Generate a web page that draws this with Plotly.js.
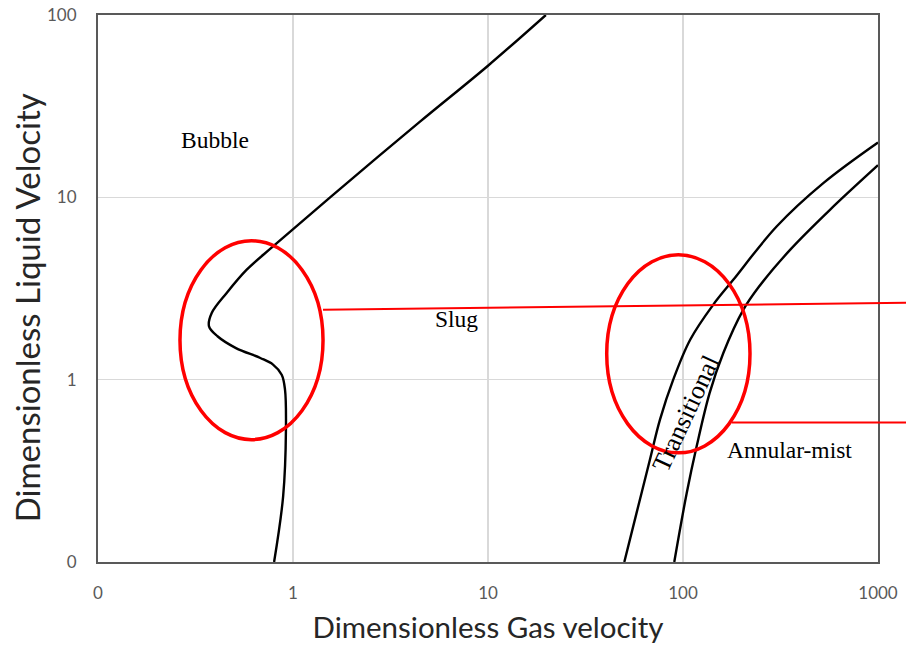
<!DOCTYPE html>
<html>
<head>
<meta charset="utf-8">
<script src="https://cdn.plot.ly/plotly-3.0.1.min.js"></script>
<style>
  html, body { margin: 0; padding: 0; background: #ffffff; }
  #chart { width: 906px; height: 645px; }
</style>
</head>
<body>
<div id="chart"></div>
<script>
// Flow-regime map boundaries (dimensionless gas vs. liquid velocity, log-log)

// Bubble / slug boundary
const bubbleSlugX = [0.80, 0.89, 0.92, 0.91, 0.875, 0.79, 0.68, 0.51, 0.41, 0.371, 0.383, 0.457, 0.579, 0.79, 1.55, 4.48, 10, 19.8];
const bubbleSlugY = [0.1, 0.229, 0.532, 0.882, 1.065, 1.21, 1.315, 1.49, 1.73, 1.96, 2.32, 2.99, 4.01, 5.38, 10, 26, 52.7, 100];

// Slug / transitional boundary
const slugTransX = [50, 57.8, 67.7, 76.2, 89.1, 109, 143, 181, 302, 524, 1000];
const slugTransY = [0.1, 0.186, 0.365, 0.604, 1.0, 1.66, 2.58, 3.53, 6.92, 11.97, 20];

// Transitional / annular-mist boundary
const transMistX = [90.2, 104.5, 117.5, 137, 161, 204, 245, 354, 567, 1000];
const transMistY = [0.1, 0.239, 0.431, 0.846, 1.40, 2.42, 3.23, 5.15, 8.54, 15];

// Axis ticks
const xTickVals = [0.1, 1, 10, 100, 1000];
const xTickText = ["0", "1", "10", "100", "1000"];
const yTickVals = [0.1, 1, 10, 100];
const yTickText = ["0", "1", "10", "100"];

// Axis titles and region labels
const xTitle = "Dimensionless Gas velocity";
const yTitle = "Dimensionless Liquid Velocity";
const regionNames = ["Bubble", "Slug", "Transitional", "Annular-mist"];

const boundaryLine = { color: "#000000", width: 2.4, shape: "spline", smoothing: 1 };

const traces = [
  { x: bubbleSlugX, y: bubbleSlugY, mode: "lines", line: boundaryLine, hoverinfo: "skip" },
  { x: slugTransX, y: slugTransY, mode: "lines", line: boundaryLine, hoverinfo: "skip" },
  { x: transMistX, y: transMistY, mode: "lines", line: boundaryLine, hoverinfo: "skip" }
];

const serif = { family: "Liberation Serif, Times New Roman, serif", size: 23.5, color: "#000000" };
const sans = "Lato, Open Sans, sans-serif";

function regionLabel(text, x, y, angle, size) {
  return {
    text: text, xref: "paper", yref: "paper", x: x, y: y,
    xanchor: "center", yanchor: "middle", showarrow: false,
    textangle: angle, font: Object.assign({}, serif, size ? { size: size } : {})
  };
}

const axisCommon = {
  type: "log",
  ticks: "",
  tickfont: { family: sans, size: 17, color: "#595959" },
  showgrid: true,
  gridcolor: "#d9d9d9",
  gridwidth: 1.5,
  showline: true,
  mirror: true,
  linecolor: "#595959",
  linewidth: 2,
  zeroline: false
};

const layout = {
  width: 906,
  height: 645,
  margin: { l: 98, r: 28, t: 15, b: 83 },
  paper_bgcolor: "#ffffff",
  plot_bgcolor: "#ffffff",
  showlegend: false,
  xaxis: Object.assign({}, axisCommon, {
    range: [-1, 3],
    tickvals: xTickVals,
    ticktext: xTickText,
    ticklabelstandoff: 15,
    title: {
      text: xTitle,
      font: { family: sans, size: 29.5, color: "#262626" },
      standoff: 15
    }
  }),
  yaxis: Object.assign({}, axisCommon, {
    range: [-1, 2],
    tickvals: yTickVals,
    ticktext: yTickText,
    ticklabelstandoff: 16
  }),
  annotations: [
    // vertical axis title, sitting a little below the plot's mid-height
    { text: yTitle, xref: "paper", yref: "paper", x: -0.091, y: 0.464,
      xanchor: "center", yanchor: "middle", showarrow: false, textangle: -90,
      font: { family: sans, size: 33, color: "#262626" } },
    regionLabel(regionNames[0], 0.150, 0.772, 0),
    regionLabel(regionNames[1], 0.460, 0.445, 0),
    regionLabel(regionNames[2], 0.754, 0.271, -65, 26),
    regionLabel(regionNames[3], 0.887, 0.204, 0)
  ],
  shapes: [
    // highlight around the bubble/slug kink
    { type: "circle", xref: "paper", yref: "paper", x0: 0.1051, x1: 0.2885, y0: 0.2237, y1: 0.5872,
      line: { color: "#ff0000", width: 3.5 } },
    // highlight around the transitional band
    { type: "circle", xref: "paper", yref: "paper", x0: 0.6522, x1: 0.8359, y0: 0.1995, y1: 0.5616,
      line: { color: "#ff0000", width: 3.5 } },
    // pointer lines running to the right edge
    { type: "line", xref: "paper", yref: "paper", x0: 0.2885, y0: 0.4612, x1: 1.036, y1: 0.4740,
      line: { color: "#ff0000", width: 2 } },
    { type: "line", xref: "paper", yref: "paper", x0: 0.8125, y0: 0.2548, x1: 1.036, y1: 0.2548,
      line: { color: "#ff0000", width: 2 } }
  ]
};

Plotly.newPlot("chart", traces, layout, { staticPlot: true, displayModeBar: false });
</script>
</body>
</html>
